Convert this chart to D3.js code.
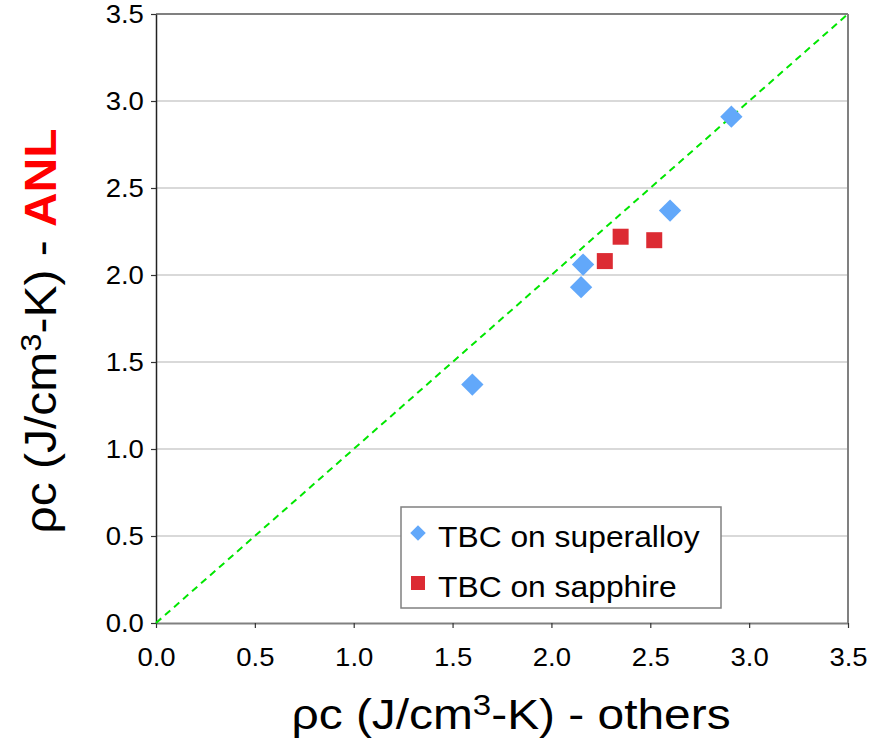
<!DOCTYPE html>
<html><head><meta charset="utf-8">
<script src="https://cdn.jsdelivr.net/npm/d3@7"></script>
<style>body{margin:0;background:#fff}svg{display:block;font-family:"Liberation Sans",Arial,sans-serif}</style>
</head><body>
<svg id="c" width="881" height="739"></svg>
<script>
// Data
const superX = [1.60, 2.15, 2.16, 2.60, 2.91];
const superY = [1.37, 1.93, 2.06, 2.37, 2.91];
const sapphX = [2.27, 2.35, 2.52];
const sapphY = [2.08, 2.22, 2.20];
const tickVals = [0, 0.5, 1.0, 1.5, 2.0, 2.5, 3.0, 3.5];
const seriesNames = ["TBC on superalloy", "TBC on sapphire"];

const svg = d3.select("#c");
const L = 156, R = 848, T = 14, B = 623;
const x = d3.scaleLinear().domain([0, 3.5]).range([L, R]);
const y = d3.scaleLinear().domain([0, 3.5]).range([B, T]);

// gridlines
svg.append("g").selectAll("line").data(tickVals.slice(1, -1)).join("line")
  .attr("x1", L).attr("x2", R).attr("y1", d => y(d)).attr("y2", d => y(d))
  .attr("stroke", "#d9d9d9").attr("stroke-width", 2);

// border top & right
svg.append("line").attr("x1", L).attr("x2", R).attr("y1", T).attr("y2", T).attr("stroke", "#808080").attr("stroke-width", 2);
svg.append("line").attr("x1", R).attr("x2", R).attr("y1", T).attr("y2", B).attr("stroke", "#808080").attr("stroke-width", 2);

// axes
const fmt = d3.format(".1f");
const xAxis = svg.append("g").attr("transform", `translate(0,${B})`)
  .call(d3.axisBottom(x).tickValues(tickVals).tickFormat(fmt).tickSizeInner(5).tickSizeOuter(0).tickPadding(20));
xAxis.select(".domain").attr("stroke", "#808080").attr("stroke-width", 2);
xAxis.selectAll(".tick line").attr("stroke", "#333").attr("stroke-width", 1.2);
xAxis.selectAll("text").attr("font-size", 25).attr("fill", "#000").attr("font-family", "Liberation Sans, Arial, sans-serif")
  .attr("transform", "scale(1.1,1)");

const yAxis = svg.append("g").attr("transform", `translate(${L},0)`)
  .call(d3.axisLeft(y).tickValues(tickVals).tickFormat(fmt).tickSizeInner(5).tickSizeOuter(0).tickPadding(6));
yAxis.select(".domain").attr("stroke", "#222").attr("stroke-width", 1.5);
yAxis.selectAll(".tick line").attr("stroke", "#333").attr("stroke-width", 1.2);
yAxis.selectAll("text").attr("font-size", 25).attr("fill", "#000").attr("font-family", "Liberation Sans, Arial, sans-serif")
  .attr("transform", "scale(1.1,1)");

// diagonal
svg.append("line").attr("x1", x(0)).attr("y1", y(0)).attr("x2", x(3.5)).attr("y2", y(3.5))
  .attr("stroke", "#00e600").attr("stroke-width", 2).attr("stroke-dasharray", "7,5");

// points
const diamond = d3.symbol().type(d3.symbolSquare).size(250);
const square = d3.symbol().type(d3.symbolSquare).size(256);
svg.append("g").selectAll("path").data(superX.map((v, i) => [v, superY[i]])).join("path")
  .attr("d", diamond).attr("fill", "#62a8fa")
  .attr("transform", d => `translate(${x(d[0])},${y(d[1])}) rotate(45)`);
svg.append("g").selectAll("path").data(sapphX.map((v, i) => [v, sapphY[i]])).join("path")
  .attr("d", square).attr("fill", "#dc2b33")
  .attr("transform", d => `translate(${x(d[0])},${y(d[1])})`);

// legend
const lg = svg.append("g");
lg.append("rect").attr("x", 401).attr("y", 507).attr("width", 320).attr("height", 101)
  .attr("fill", "#fff").attr("stroke", "#808080").attr("stroke-width", 1.5);
lg.append("path").attr("d", d3.symbol().type(d3.symbolSquare).size(120)).attr("fill", "#62a8fa")
  .attr("transform", "translate(418,533) rotate(45)");
lg.append("path").attr("d", d3.symbol().type(d3.symbolSquare).size(196)).attr("fill", "#dc2b33")
  .attr("transform", "translate(418,583)");
lg.selectAll("text").data(seriesNames).join("text")
  .attr("transform", (d, i) => `translate(438,${547 + i * 50}) scale(1.06,1)`)
  .attr("font-size", 30).attr("fill", "#000").text(d => d);

// x title
const xt = svg.append("text").attr("transform", "translate(511,729) scale(1.14,1)").attr("text-anchor", "middle")
  .attr("font-size", 42).attr("fill", "#000");
xt.append("tspan").text("ρc (J/cm");
xt.append("tspan").attr("font-size", 29).attr("dy", -14).text("3");
xt.append("tspan").attr("dy", 14).text("-K) - others");

// y title
const yt = svg.append("text").attr("transform", "translate(56,331) rotate(-90) scale(1.09,1)").attr("text-anchor", "middle")
  .attr("font-size", 44).attr("fill", "#000");
yt.append("tspan").text("ρc (J/cm");
yt.append("tspan").attr("font-size", 30).attr("dy", -15).text("3");
yt.append("tspan").attr("dy", 15).text("-K) - ");
yt.append("tspan").attr("fill", "#ff0000").attr("font-weight", "bold").text("ANL");
</script>
</body></html>
